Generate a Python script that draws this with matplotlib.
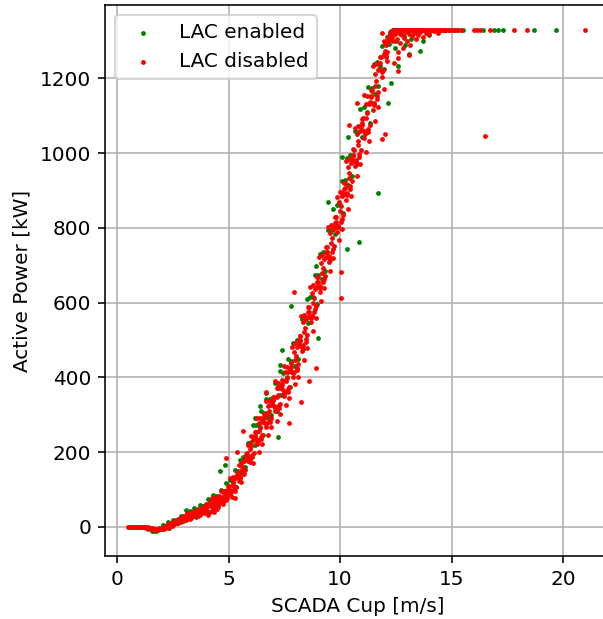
import matplotlib
matplotlib.use("Agg")
import matplotlib.pyplot as plt

# LAC disabled (red)
off_low_speed = [0.48, 0.55, 0.63, 0.70, 0.78, 0.86, 0.93, 1.01, 1.09, 1.16, 1.24, 1.31,
                 1.39, 1.46, 1.53, 1.60, 1.67, 1.74, 1.81, 1.88, 1.95, 2.02, 2.09, 2.16]
off_low_power = [0, 0, 0, 0, 0, 0, 0, 0, 0, -1, 0, -2,
                 -1, -4, -6, -3, -8, -5, -9, -4, -7, -3, -6, -1]

off_ramp_speed = [
    2.22, 2.25, 2.28, 2.32, 2.35, 2.38, 2.42, 2.45, 2.48, 2.52, 2.55, 2.58, 2.62, 2.65, 2.68, 2.72, 2.75, 2.78, 2.82, 2.85, 2.88, 2.92, 2.95, 2.98,
    3.02, 3.05, 3.08, 3.12, 3.15, 3.18, 3.22, 3.25, 3.28, 3.32, 3.35, 3.38, 3.42, 3.45, 3.48, 3.52, 3.55, 3.58, 3.62, 3.65, 3.68, 3.72, 3.75, 3.78, 3.82, 3.85, 3.88, 3.92, 3.95, 3.98,
    4.02, 4.05, 4.08, 4.12, 4.15, 4.18, 4.22, 4.25, 4.28, 4.32, 4.35, 4.38, 4.42, 4.45, 4.48, 4.52, 4.55, 4.58, 4.62, 4.65, 4.68, 4.72, 4.75, 4.78, 4.82, 4.85, 4.88, 4.92, 4.95, 4.98,
    5.02, 5.05, 5.08, 5.12, 5.15, 5.18, 5.22, 5.25, 5.28, 5.32, 5.35, 5.38, 5.42, 5.45, 5.48, 5.52, 5.55, 5.58, 5.62, 5.65, 5.68, 5.72, 5.75, 5.78, 5.82, 5.85, 5.88, 5.92, 5.95, 5.98,
    6.02, 6.05, 6.08, 6.12, 6.15, 6.18, 6.22, 6.25, 6.28, 6.32, 6.35, 6.38, 6.42, 6.45, 6.48, 6.52, 6.55, 6.58, 6.62, 6.65, 6.68, 6.72, 6.75, 6.78, 6.82, 6.85, 6.88, 6.92, 6.95, 6.98,
    7.02, 7.05, 7.08, 7.12, 7.15, 7.18, 7.22, 7.25, 7.28, 7.32, 7.35, 7.38, 7.42, 7.45, 7.48, 7.52, 7.55, 7.58, 7.62, 7.65, 7.68, 7.72, 7.75, 7.78, 7.82, 7.85, 7.88, 7.92, 7.95, 7.98,
    8.02, 8.05, 8.08, 8.12, 8.15, 8.18, 8.22, 8.25, 8.28, 8.32, 8.35, 8.38, 8.42, 8.45, 8.48, 8.52, 8.55, 8.58, 8.62, 8.65, 8.68, 8.72, 8.75, 8.78, 8.82, 8.85, 8.88, 8.92, 8.95, 8.98,
    9.02, 9.05, 9.08, 9.12, 9.15, 9.18, 9.22, 9.25, 9.28, 9.32, 9.35, 9.38, 9.42, 9.45, 9.48, 9.52, 9.55, 9.58, 9.62, 9.65, 9.68, 9.72, 9.75, 9.78, 9.82, 9.85, 9.88, 9.92, 9.95, 9.98,
    10.02, 10.05, 10.08, 10.12, 10.15, 10.18, 10.22, 10.25, 10.28, 10.32, 10.35, 10.38, 10.42, 10.45, 10.48, 10.52, 10.55, 10.58, 10.62, 10.65, 10.68, 10.72, 10.75, 10.78, 10.82, 10.85, 10.88, 10.92, 10.95, 10.98,
    11.02, 11.05, 11.08, 11.12, 11.15, 11.18, 11.22, 11.25, 11.28, 11.32, 11.35, 11.38, 11.42, 11.45, 11.48, 11.52, 11.55, 11.58, 11.62, 11.65, 11.68, 11.72, 11.75, 11.78, 11.82, 11.85, 11.88, 11.92, 11.95, 11.98,
    12.02, 12.05, 12.08, 12.12, 12.15, 12.18, 12.22, 12.25, 12.28, 12.32, 12.35, 12.38,
]
off_ramp_power = [
    4, 0, -2, 0, 9, 5, 7, 1, 10, 4, 11, 15, 15, 11, 9, 12, 21, 18, 20, 14, 23, 17, 24, 28,
    30, 23, 19, 22, 37, 29, 31, 21, 36, 23, 35, 41, 39, 32, 28, 31, 46, 38, 40, 30, 45, 33, 45, 50, 49, 42, 38, 41, 56, 48,
    52, 36, 58, 40, 58, 66, 65, 54, 47, 51, 74, 63, 66, 50, 72, 54, 73, 82, 81, 71, 65, 71, 94, 83, 87, 73, 95, 78, 97, 106,
    110, 95, 87, 95, 128, 113, 119, 98, 131, 106, 133, 147, 146, 131, 123, 132, 167, 153, 161, 141, 176, 153, 181, 196, 197, 184, 177, 186, 221, 207,
    215, 186, 232, 198, 235, 253, 253, 233, 221, 232, 278, 257, 264, 235, 281, 246, 283, 301, 299, 279, 267, 277, 323, 303, 310, 281, 326, 291, 328, 347,
    348, 323, 309, 320, 372, 347, 354, 319, 371, 329, 371, 392, 389, 365, 350, 362, 414, 389, 397, 362, 414, 374, 417, 438, 437, 414, 401, 415, 469, 445,
    457, 419, 480, 436, 486, 511, 511, 485, 470, 486, 548, 521, 533, 495, 556, 512, 562, 588, 588, 562, 548, 564, 626, 600, 612, 574, 636, 592, 642, 668,
    668, 642, 628, 644, 706, 680, 692, 654, 716, 672, 722, 748, 748, 722, 708, 724, 786, 760, 772, 734, 796, 752, 802, 828, 828, 803, 790, 806, 869, 844,
    858, 815, 885, 835, 892, 921, 920, 891, 875, 893, 963, 933, 947, 904, 974, 924, 981, 1010, 1009, 980, 964, 982, 1051, 1021, 1033, 990, 1059, 1008, 1064, 1092,
    1093, 1059, 1039, 1055, 1130, 1095, 1106, 1057, 1132, 1075, 1137, 1168, 1167, 1134, 1116, 1135, 1212, 1178, 1192, 1144, 1221, 1164, 1226, 1258, 1256, 1223, 1204, 1222, 1299, 1266,
    1273, 1256, 1289, 1271, 1299, 1314, 1318, 1307, 1302, 1311, 1328, 1324,
]

# second pass of readings along the ramp
off_fill_speed = [
    4.00, 4.065, 4.10, 4.165, 4.20, 4.265, 4.30, 4.365, 4.40, 4.465, 4.50, 4.565, 4.60, 4.665, 4.70, 4.765, 4.80, 4.865, 4.90, 4.965,
    5.00, 5.065, 5.10, 5.165, 5.20, 5.265, 5.30, 5.365, 5.40, 5.465, 5.50, 5.565, 5.60, 5.665, 5.70, 5.765, 5.80, 5.865, 5.90, 5.965,
    6.00, 6.065, 6.10, 6.165, 6.20, 6.265, 6.30, 6.365, 6.40, 6.465, 6.50, 6.565, 6.60, 6.665, 6.70, 6.765, 6.80, 6.865, 6.90, 6.965,
    7.00, 7.065, 7.10, 7.165, 7.20, 7.265, 7.30, 7.365, 7.40, 7.465, 7.50, 7.565, 7.60, 7.665, 7.70, 7.765, 7.80, 7.865, 7.90, 7.965,
    8.00, 8.065, 8.10, 8.165, 8.20, 8.265, 8.30, 8.365, 8.40, 8.465, 8.50, 8.565, 8.60, 8.665, 8.70, 8.765, 8.80, 8.865, 8.90, 8.965,
    9.00, 9.065, 9.10, 9.165, 9.20, 9.265, 9.30, 9.365, 9.40, 9.465, 9.50, 9.565, 9.60, 9.665, 9.70, 9.765, 9.80, 9.865, 9.90, 9.965,
    10.00, 10.065, 10.10, 10.165, 10.20, 10.265, 10.30, 10.365, 10.40, 10.465, 10.50, 10.565, 10.60, 10.665, 10.70, 10.765, 10.80, 10.865, 10.90, 10.965,
    11.00, 11.065, 11.10, 11.165, 11.20, 11.265, 11.30, 11.365, 11.40, 11.465, 11.50, 11.565, 11.60, 11.665, 11.70, 11.765, 11.80, 11.865, 11.90, 11.965,
    12.00, 12.065, 12.10, 12.165, 12.20, 12.265, 12.30, 12.365,
]
off_fill_power = [
    62, 41, 33, 60, 60, 77, 52, 41, 76, 55, 47, 75, 76, 95, 71, 61, 97, 78, 71, 99,
    102, 130, 95, 81, 133, 106, 96, 137, 138, 166, 131, 120, 174, 150, 142, 185, 188, 219, 186, 174,
    242, 192, 172, 243, 244, 291, 229, 201, 291, 241, 221, 291, 291, 337, 274, 247, 337, 286, 266, 337,
    339, 390, 317, 284, 385, 325, 301, 380, 380, 431, 359, 326, 428, 368, 345, 426, 427, 481, 411, 381,
    492, 426, 402, 497, 499, 563, 481, 446, 568, 502, 478, 574, 576, 641, 559, 525, 647, 582, 558, 654,
    656, 721, 639, 605, 727, 662, 638, 734, 736, 801, 719, 685, 807, 742, 718, 814, 816, 882, 801, 768,
    896, 824, 797, 904, 906, 978, 888, 850, 985, 913, 886, 993, 995, 1067, 977, 938, 1072, 998, 970, 1076,
    1080, 1156, 1051, 1002, 1152, 1065, 1032, 1151, 1153, 1232, 1129, 1085, 1237, 1153, 1122, 1240, 1242, 1321, 1217, 1172,
    1292, 1259, 1247, 1307, 1311, 1327, 1308, 1300,
]

off_knee_speed = [12.45, 12.55, 12.62, 12.70, 12.78, 12.85, 12.92, 13.00, 13.08, 13.15, 13.22, 13.30, 13.40,
                  13.50, 13.60, 13.70, 13.85, 14.00, 14.20, 14.40, 12.60, 12.80, 13.10, 12.40, 12.60]
off_knee_power = [1318, 1305, 1322, 1295, 1315, 1308, 1325, 1300, 1318, 1290, 1312, 1322, 1305,
                  1316, 1325, 1310, 1320, 1318, 1326, 1322, 1270, 1280, 1262, 1240, 1255]

off_rated_speed = [12.40, 12.48, 12.55, 12.63, 12.70, 12.78, 12.86, 12.93, 13.01, 13.09, 13.16, 13.24, 13.31,
                   13.39, 13.47, 13.55, 13.62, 13.70, 13.78, 13.85, 13.93, 14.01, 14.10, 14.19, 14.28, 14.37,
                   14.46, 14.56, 14.66, 14.77, 14.88, 15.00, 15.12, 15.25, 15.40, 16.00, 16.12, 16.28, 16.70,
                   17.80, 18.40, 21.00]
off_rated_power = [1330] * len(off_rated_speed)

off_out_speed = [16.50, 10.75, 10.40, 12.60, 12.00, 11.90, 10.05, 10.05, 8.90, 8.60, 8.25, 7.95, 7.70,
                 5.30, 4.90, 5.40, 5.65, 6.70]
off_out_power = [1045, 1134, 1075, 1220, 1051, 1037, 681, 611, 426, 389, 335, 627, 279,
                 78, 185, 201, 257, 362]

# LAC enabled (green)
on_low_speed = [0.55, 0.72, 0.90, 1.10, 1.25, 1.40, 1.55, 1.65, 1.75, 1.85, 1.95]
on_low_power = [0, 0, 0, 0, -1, -5, -12, -10, -12, -8, -6]

on_ramp_speed = [
    2.05, 2.12, 2.20, 2.27, 2.35, 2.42, 2.50, 2.57, 2.65, 2.72, 2.80, 2.87, 2.95, 3.02,
    3.10, 3.17, 3.25, 3.32, 3.40, 3.47, 3.55, 3.62, 3.70, 3.77, 3.85, 3.92,
    4.00, 4.07, 4.15, 4.22, 4.30, 4.37, 4.45, 4.52, 4.60, 4.67, 4.75, 4.82, 4.90, 4.97,
    5.05, 5.12, 5.20, 5.27, 5.35, 5.42, 5.50, 5.57, 5.65, 5.72, 5.80, 5.87, 5.95, 6.02,
    6.10, 6.17, 6.25, 6.32, 6.40, 6.47, 6.55, 6.62, 6.70, 6.77, 6.85, 6.92,
    7.00, 7.07, 7.15, 7.22, 7.30, 7.37, 7.45, 7.52, 7.60, 7.67, 7.75, 7.82, 7.90, 7.97,
    8.05, 8.12, 8.20, 8.27, 8.35, 8.42, 8.50, 8.57, 8.65, 8.72, 8.80, 8.87, 8.95, 9.02,
    9.10, 9.17, 9.25, 9.32, 9.40, 9.47, 9.55, 9.62, 9.70, 9.77, 9.85, 9.92,
    10.00, 10.07, 10.15, 10.22, 10.30, 10.37, 10.45, 10.52, 10.60, 10.67, 10.75, 10.82, 10.90, 10.97,
    11.05, 11.12, 11.20, 11.27, 11.35, 11.42, 11.50, 11.57, 11.65, 11.72, 11.80, 11.87, 11.95, 12.02,
    12.10, 12.17, 12.25, 12.32,
]
on_ramp_power = [
    5, -3, 2, 12, -2, 11, 19, 8, 19, 11, 20, 30, 16, 29,
    44, 25, 42, 26, 37, 50, 27, 47, 58, 39, 56, 41,
    54, 74, 39, 68, 86, 57, 82, 58, 77, 99, 66, 96, 117, 89,
    124, 94, 121, 153, 106, 150, 179, 145, 186, 159, 189, 225, 181, 226,
    272, 220, 272, 232, 267, 310, 246, 304, 343, 291, 341, 300,
    339, 386, 309, 374, 418, 354, 412, 361, 402, 450, 374, 443, 492, 431,
    499, 448, 498, 556, 476, 555, 610, 544, 615, 564, 615, 674, 595, 674,
    730, 664, 735, 684, 735, 794, 715, 794, 850, 784, 861, 805,
    861, 926, 840, 927, 988, 915, 994, 938, 995, 1059, 971, 1057, 1117, 1043,
    1122, 1056, 1111, 1177, 1079, 1173, 1239, 1159, 1243, 1180, 1234, 1285, 1226, 1293,
    1311, 1292, 1325, 1312,
]

on_knee_speed = [12.50, 12.70, 12.90, 13.20, 13.45, 13.70, 14.00, 13.10, 13.60, 12.60, 12.30, 12.15, 12.45, 12.85]
on_knee_power = [1300, 1318, 1290, 1305, 1320, 1300, 1315, 1265, 1274, 1233, 1188, 1134, 1280, 1312]

on_rated_speed = [12.35, 12.50, 12.66, 12.82, 12.98, 13.14, 13.30, 13.46, 13.62, 13.78, 13.94, 14.12, 14.30,
                  14.50, 14.70, 14.90, 15.10, 15.30, 15.50, 16.40, 16.90, 17.10, 17.30, 18.70, 19.70]
on_rated_power = [1330] * len(on_rated_speed)

on_out_speed = [11.70, 10.85, 10.30, 9.00, 7.80, 10.35, 10.10, 9.46, 8.90, 7.40, 7.30, 6.40, 6.20, 7.20,
                4.60, 4.85, 6.70]
on_out_power = [893, 761, 743, 504, 592, 1043, 990, 869, 697, 474, 434, 322, 290, 241,
                150, 166, 359]

on_speed = on_low_speed + on_ramp_speed + on_knee_speed + on_rated_speed + on_out_speed
on_power = on_low_power + on_ramp_power + on_knee_power + on_rated_power + on_out_power
off_speed = off_low_speed + off_ramp_speed + off_fill_speed + off_knee_speed + off_rated_speed + off_out_speed
off_power = off_low_power + off_ramp_power + off_fill_power + off_knee_power + off_rated_power + off_out_power

DPI = 144
fig = plt.figure(figsize=(603 / DPI, 619 / DPI), dpi=DPI)
ax = fig.add_axes([105 / 603, 63 / 619, 505 / 603, 551 / 619])

ax.scatter(on_speed, on_power, s=2, color='green', label='LAC enabled', zorder=2)
ax.scatter(off_speed, off_power, s=2, color='red', label='LAC disabled', zorder=3)

ax.set_xlim(-0.54, 22.1)
ax.set_ylim(-78, 1396)
ax.set_xlabel('SCADA Cup [m/s]')
ax.set_ylabel('Active Power [kW]')
ax.grid(True)
ax.legend(loc='upper left')

fig.savefig('out.png', dpi=DPI)
